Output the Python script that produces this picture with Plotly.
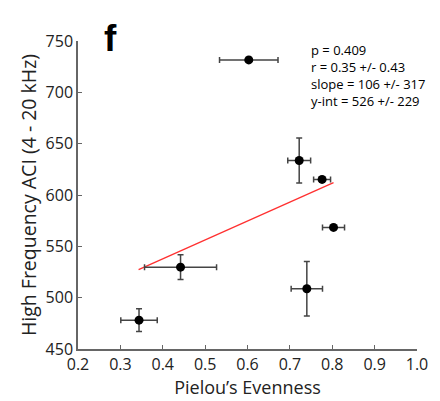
import plotly.graph_objects as go

evenness = [0.603, 0.722, 0.776, 0.803, 0.442, 0.740, 0.344]
aci = [731.6, 633.6, 615.2, 568.4, 529.7, 508.7, 478.1]
evenness_err = [0.069, 0.027, 0.020, 0.026, 0.085, 0.037, 0.043]
aci_err = [0, 21.8, 2.5, 0, 12.1, 26.6, 11.1]
fit_x = [0.343, 0.803]
fit_y = [527.4, 612.0]
stats_lines = ["p = 0.409", "r = 0.35 +/- 0.43", "slope = 106 +/- 317", "y-int = 526 +/- 229"]

font = "Open Sans"
fig = go.Figure()
fig.add_trace(go.Scatter(
    x=fit_x, y=fit_y, mode="lines",
    line=dict(color="#ff3030", width=1.3), hoverinfo="skip"))
fig.add_trace(go.Scatter(
    x=evenness, y=aci, mode="markers",
    marker=dict(color="black", size=9),
    error_x=dict(type="data", array=evenness_err, color="#444444", thickness=1.5, width=3),
    error_y=dict(type="data", array=aci_err, color="#444444", thickness=1.5, width=3)))

fig.update_layout(
    width=440, height=401,
    margin=dict(l=78, r=17, t=41, b=50),
    plot_bgcolor="white", paper_bgcolor="white",
    showlegend=False,
    font=dict(family=font, color="#222222"),
    xaxis=dict(range=[0.2, 1.0], tickvals=[0.2, 0.3, 0.4, 0.5, 0.6, 0.7, 0.8, 0.9, 1.0],
               ticktext=["0.2", "0.3", "0.4", "0.5", "0.6", "0.7", "0.8", "0.9", "1.0"],
               ticks="inside", ticklen=4, tickcolor="#666666", showgrid=False, zeroline=False,
               showline=True, linecolor="#666666", linewidth=1.5,
               tickfont=dict(size=16, family=font),
               title=dict(text="Pielou’s Evenness", font=dict(size=18, family=font), standoff=1)),
    yaxis=dict(range=[450, 750], tickvals=[450, 500, 550, 600, 650, 700, 750],
               ticks="inside", ticklen=4, tickcolor="#666666", showgrid=False, zeroline=False,
               showline=True, linecolor="#666666", linewidth=1.5,
               tickfont=dict(size=16, family=font),
               title=dict(text="High Frequency ACI (4 - 20 kHz)", font=dict(size=19.5, family=font), standoff=4)),
)

fig.add_annotation(x=(102 - 78) / 345, y=1 + (41 - 16) / 310, xref="x domain", yref="paper", text="<b>f</b>",
                   showarrow=False, xanchor="left", yanchor="top",
                   font=dict(size=37, family="Liberation Sans", color="black"))
fig.add_annotation(x=(313 - 78) / 345, y=1 + (41 - 39) / 310, xref="paper", yref="paper",
                   text="<br>".join(stats_lines),
                   showarrow=False, align="left", xanchor="left", yanchor="top",
                   font=dict(size=13, family=font, color="black"))

fig.write_html("out.html")
